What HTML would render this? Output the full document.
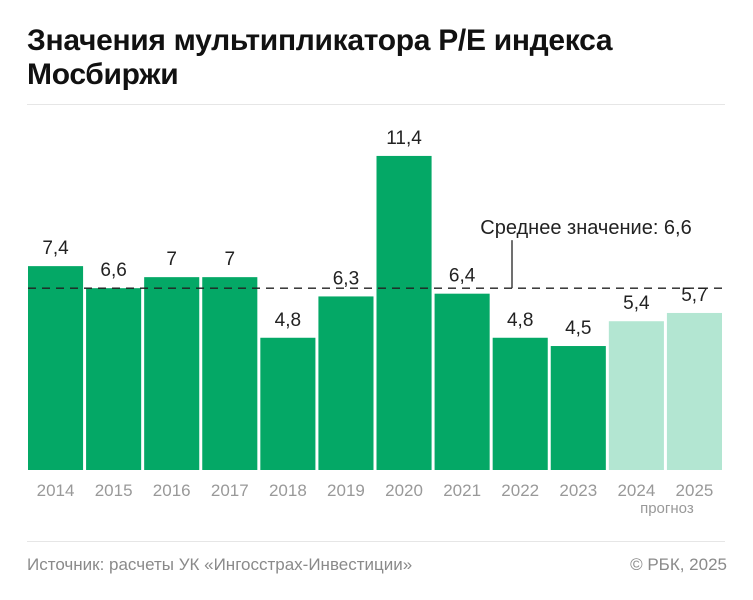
<!DOCTYPE html>
<html><head><meta charset="utf-8"><style>
body{margin:0;background:#fff;width:753px;height:600px;overflow:hidden;font-family:"Liberation Sans",sans-serif}
#title{position:absolute;left:27px;top:24px;font-size:30px;font-weight:bold;line-height:34px;color:#111;letter-spacing:-0.3px}
.hr{position:absolute;left:27px;width:698px;height:1px;background:#e6e6e6}
.foot{position:absolute;top:555px;font-size:17px;color:#8a8a8a}
</style></head><body>
<div id="title">Значения мультипликатора P/E индекса<br>Мосбиржи</div>
<div class="hr" style="top:104px"></div>
<svg id="chart" width="753" height="540" style="position:absolute;left:0;top:0"></svg>
<div class="hr" style="top:541px"></div>
<div class="foot" style="left:27px">Источник: расчеты УК «Ингосстрах-Инвестиции»</div>
<div class="foot" style="right:26px">© РБК, 2025</div>
<script>
const years=["2014","2015","2016","2017","2018","2019","2020","2021","2022","2023","2024","2025"];
const values=[7.4,6.6,7,7,4.8,6.3,11.4,6.4,4.8,4.5,5.4,5.7];
const valueLabels=["7,4","6,6","7","7","4,8","6,3","11,4","6,4","4,8","4,5","5,4","5,7"];
const forecast=[false,false,false,false,false,false,false,false,false,false,true,true];
const meanValue=6.6;
const meanLabel="Среднее значение: 6,6";
const ns="http://www.w3.org/2000/svg",svg=document.getElementById('chart');
const x0=28,x1=725,base=470,scale=27.55,step=(x1-x0)/years.length,bw=step-3;
const y=v=>base-v*scale, x=i=>x0+i*step;
function mk(t,a,txt){const e=document.createElementNS(ns,t);for(const k in a)e.setAttribute(k,a[k]);if(txt!=null)e.textContent=txt;svg.appendChild(e);return e;}
years.forEach((yr,i)=>{
 const r=mk('rect',{x:x(i),y:y(values[i]),width:bw,height:base-y(values[i]),fill:forecast[i]?'#b3e6d2':'#04a866'});
 
 
 const l=mk('text',{x:x(i)+bw/2,y:y(values[i])-12,'text-anchor':'middle','font-size':19,fill:'#222','font-family':'Liberation Sans'},valueLabels[i]);
 
 
 const t=mk('text',{x:x(i)+bw/2,y:496,'text-anchor':'middle','font-size':17,fill:'#999','font-family':'Liberation Sans'},yr);
 
 
 if(forecast[i]&&i===years.length-2){
  const p=mk('text',{x:x(i)+step,y:513,'text-anchor':'middle','font-size':15,fill:'#999','font-family':'Liberation Sans'},'прогноз');
  
  
 }
});
const ml=mk('line',{x1:x0,x2:x1,y1:y(meanValue),y2:y(meanValue),stroke:'#222','stroke-width':1.3,'stroke-dasharray':'8 6'});


const tk=mk('line',{x1:512,x2:512,y1:y(meanValue)-48,y2:y(meanValue),stroke:'#222','stroke-width':1.3});


const mt=mk('text',{x:586,y:234,'text-anchor':'middle','font-size':20,fill:'#222','font-family':'Liberation Sans'},meanLabel);


</script>
</body></html>
